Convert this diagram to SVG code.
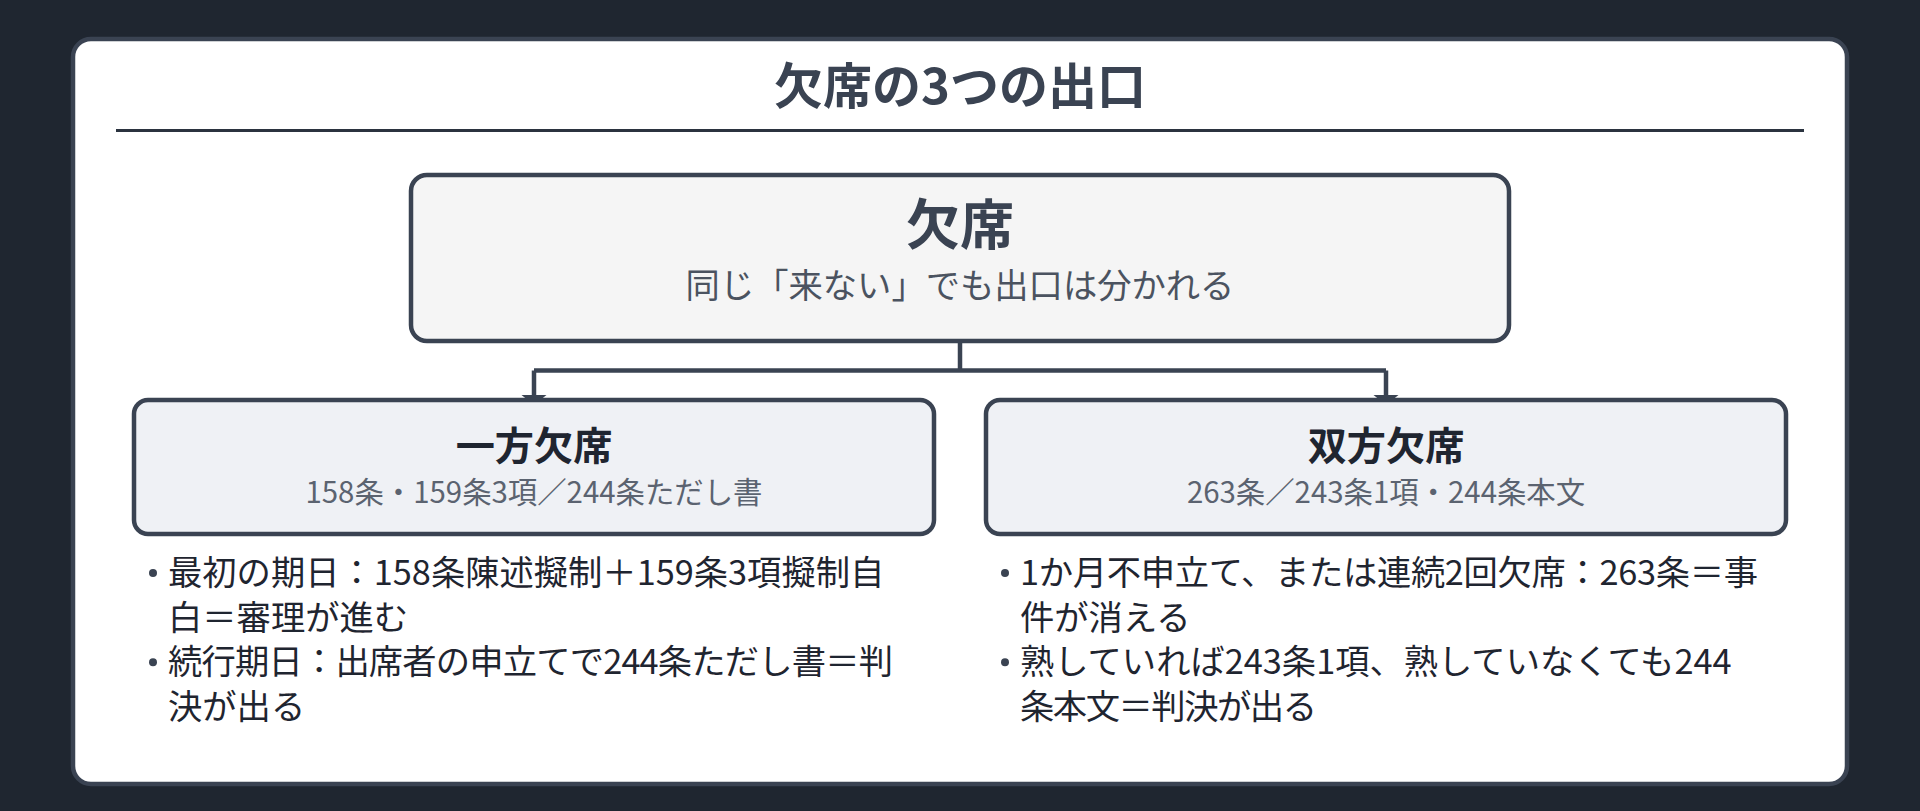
<svg xmlns="http://www.w3.org/2000/svg" width="1920" height="811" viewBox="0 0 1920 811">
<defs>
<style>
text{font-family:"Noto Sans CJK JP","Noto Sans",sans-serif;}
.title{font-size:49px;font-weight:700;fill:#3a4352;text-anchor:middle;}
.main{font-size:54px;font-weight:700;fill:#3a4352;text-anchor:middle;}
.mainsub{font-size:34.3px;fill:#4b5360;text-anchor:middle;}
.ctitle{font-size:39.2px;font-weight:700;fill:#1f2530;text-anchor:middle;}
.csub{font-size:29.4px;fill:#5b6370;text-anchor:middle;}
.bullet{font-size:34.3px;fill:#1f2530;}
.box{stroke:#3a4352;stroke-width:4.5;}
.edge{fill:none;stroke:#3a4352;stroke-width:4.5;}
.dot{fill:#3a4352;}
</style>
</defs>
<rect x="0" y="0" width="1920" height="811" fill="#1f2630"/>
<g id="card">
<rect x="73" y="39" width="1774" height="745" rx="18" fill="#ffffff" stroke="#3a4352" stroke-width="4.5"/>
<text class="title" x="960" y="104">欠席の3つの出口</text>
<line x1="116" y1="130.5" x2="1804" y2="130.5" stroke="#2b333f" stroke-width="3"/>
</g>
<g id="connectors">
<path class="edge" d="M960 341 V370.5"/>
<path class="edge" d="M534 370.5 H1386"/>
<path class="edge" d="M534 370.5 V397"/>
<path class="edge" d="M1386 370.5 V397"/>
<path d="M521.5 395 L546.5 395 L534 405 Z" fill="#3a4352"/>
<path d="M1373.5 395 L1398.5 395 L1386 405 Z" fill="#3a4352"/>
</g>
<g id="node-absence">
<rect class="box" x="411" y="175" width="1098" height="166" rx="16" fill="#f5f5f5"/>
<text class="main" x="960" y="244.5">欠席</text>
<text class="mainsub" x="960" y="297.5">同じ「来ない」でも出口は分かれる</text>
</g>
<g id="node-one-side">
<rect class="box" x="134" y="400" width="800" height="134" rx="14" fill="#eff1f5"/>
<text class="ctitle" x="534" y="460">一方欠席</text>
<text class="csub" x="534" y="503">158条・159条3項／244条ただし書</text>
<circle class="dot" cx="153" cy="573" r="4"/>
<circle class="dot" cx="153" cy="662.2" r="4"/>
<text class="bullet" x="168" y="585">最初の期日：158条陳述擬制＋159条3項擬制自</text>
<text class="bullet" x="168" y="629.6">白＝審理が進む</text>
<text class="bullet" x="168" y="674.2" textLength="725" lengthAdjust="spacing">続行期日：出席者の申立てで244条ただし書＝判</text>
<text class="bullet" x="168" y="718.8">決が出る</text>
</g>
<g id="node-both-sides">
<rect class="box" x="986" y="400" width="800" height="134" rx="14" fill="#eff1f5"/>
<text class="ctitle" x="1386" y="460">双方欠席</text>
<text class="csub" x="1386" y="503">263条／243条1項・244条本文</text>
<circle class="dot" cx="1005" cy="573" r="4"/>
<circle class="dot" cx="1005" cy="662.2" r="4"/>
<text class="bullet" x="1020" y="585" textLength="738" lengthAdjust="spacing">1か月不申立て、または連続2回欠席：263条＝事</text>
<text class="bullet" x="1020" y="629.6">件が消える</text>
<text class="bullet" x="1020" y="674.2">熟していれば243条1項、熟していなくても244</text>
<text class="bullet" x="1020" y="718.8" textLength="297" lengthAdjust="spacing">条本文＝判決が出る</text>
</g>
</svg>
